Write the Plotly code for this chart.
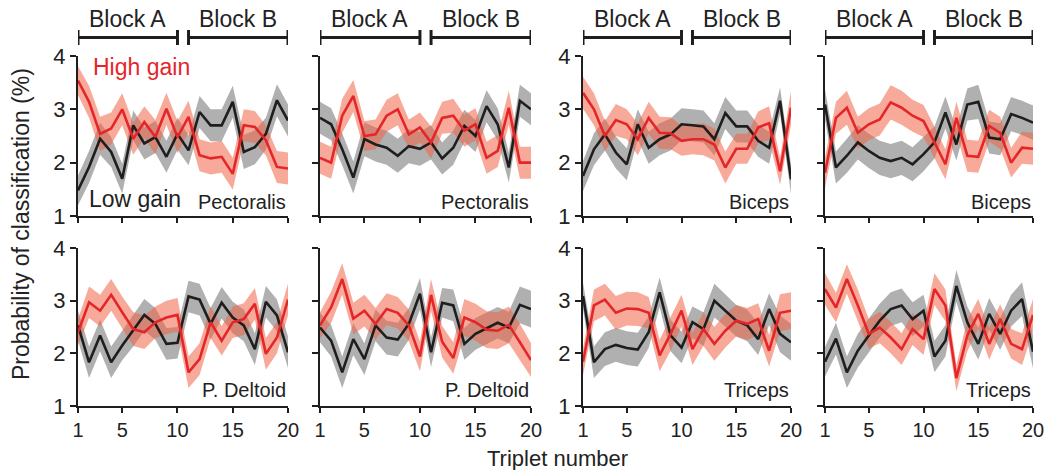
import plotly.graph_objects as go

triplets = list(range(1, 21))
panel_names = ["Pectoralis", "Pectoralis", "Biceps", "Biceps",
               "P. Deltoid", "P. Deltoid", "Triceps", "Triceps"]

# High gain (red) means per panel
high_p1 = [3.54, 3.14, 2.54, 2.64, 3.00, 2.45, 2.76, 2.48, 3.01, 2.48, 2.86, 2.14, 2.08, 2.11, 1.79, 2.70, 2.67, 2.42, 1.92, 1.89]
high_p2 = [2.09, 2.00, 2.88, 3.25, 2.50, 2.53, 2.88, 3.00, 2.53, 2.66, 2.38, 2.84, 2.88, 2.60, 2.72, 2.09, 2.22, 3.03, 2.00, 2.00]
high_p3 = [3.31, 3.00, 2.50, 2.80, 2.72, 2.44, 2.84, 2.56, 2.55, 2.41, 2.44, 2.44, 2.34, 1.91, 2.26, 2.26, 2.66, 2.74, 1.84, 3.03]
high_p4 = [1.81, 2.84, 3.03, 2.56, 2.72, 2.81, 3.13, 3.03, 2.88, 2.78, 2.38, 1.97, 2.84, 2.13, 2.11, 2.69, 2.56, 2.00, 2.28, 2.26]
high_p5 = [2.40, 2.97, 2.81, 3.11, 2.78, 2.46, 2.40, 2.59, 2.68, 2.73, 1.64, 1.89, 2.59, 2.24, 2.59, 2.65, 2.94, 1.99, 2.30, 3.02]
high_p6 = [2.53, 2.87, 3.41, 2.66, 2.81, 2.56, 2.84, 2.77, 2.53, 1.94, 3.11, 2.22, 1.91, 2.68, 2.59, 2.45, 2.43, 2.54, 2.21, 1.87]
high_p7 = [1.84, 2.91, 3.02, 2.77, 2.85, 2.84, 2.77, 1.96, 2.37, 2.81, 2.08, 2.46, 2.18, 2.43, 2.62, 2.56, 2.65, 2.05, 2.77, 2.81]
high_p8 = [3.22, 2.87, 3.41, 2.91, 2.37, 2.49, 2.30, 2.08, 2.46, 2.27, 3.22, 2.91, 1.53, 2.34, 2.75, 2.18, 2.65, 2.18, 2.08, 2.73]

# Low gain (black) means per panel
low_p1 = [1.48, 1.92, 2.45, 2.20, 1.70, 2.70, 2.36, 2.48, 2.11, 2.54, 2.23, 2.95, 2.70, 2.70, 3.14, 2.20, 2.29, 2.54, 3.17, 2.79]
low_p2 = [2.84, 2.72, 2.25, 1.72, 2.44, 2.34, 2.28, 2.13, 2.31, 2.26, 2.38, 2.08, 2.28, 2.69, 2.50, 3.06, 2.72, 1.91, 3.16, 3.00]
low_p3 = [1.75, 2.25, 2.53, 2.19, 1.97, 2.72, 2.28, 2.44, 2.53, 2.72, 2.70, 2.68, 2.44, 2.93, 2.68, 2.68, 2.41, 2.28, 3.16, 1.69]
low_p4 = [3.09, 1.91, 2.13, 2.38, 2.22, 2.09, 2.03, 2.09, 1.97, 2.16, 2.38, 2.94, 2.34, 3.09, 3.14, 2.47, 2.44, 2.91, 2.84, 2.75]
low_p5 = [2.53, 1.83, 2.34, 1.83, 2.15, 2.43, 2.73, 2.56, 2.18, 2.20, 3.08, 3.02, 2.56, 2.96, 2.68, 2.53, 2.08, 2.98, 2.72, 2.02]
low_p6 = [2.49, 2.24, 1.64, 2.27, 1.89, 2.53, 2.30, 2.26, 2.56, 3.13, 2.02, 2.96, 2.91, 2.18, 2.37, 2.47, 2.58, 2.49, 2.92, 2.84]
low_p7 = [3.09, 1.83, 2.08, 2.16, 2.10, 2.07, 2.40, 3.16, 2.34, 2.11, 2.59, 2.46, 3.00, 2.81, 2.62, 2.53, 2.27, 2.84, 2.37, 2.21]
low_p8 = [1.84, 2.28, 1.64, 2.05, 2.34, 2.62, 2.84, 2.91, 2.65, 2.81, 1.94, 2.24, 3.28, 2.59, 2.18, 2.75, 2.37, 2.81, 3.03, 2.03]

# Shaded-band half widths (s.e.m.) per panel
high_sem_p1 = [0.27, 0.30, 0.32, 0.30, 0.30, 0.30, 0.30, 0.32, 0.30, 0.30, 0.30, 0.30, 0.30, 0.30, 0.30, 0.30, 0.30, 0.28, 0.30, 0.30]
high_sem_p2 = [0.30, 0.30, 0.32, 0.30, 0.28, 0.28, 0.30, 0.30, 0.28, 0.28, 0.30, 0.30, 0.32, 0.30, 0.30, 0.30, 0.30, 0.32, 0.30, 0.30]
high_sem_p3 = [0.30, 0.30, 0.28, 0.30, 0.28, 0.30, 0.30, 0.30, 0.30, 0.28, 0.28, 0.30, 0.30, 0.30, 0.28, 0.28, 0.30, 0.32, 0.25, 0.32]
high_sem_p4 = [0.28, 0.30, 0.32, 0.30, 0.30, 0.30, 0.32, 0.32, 0.30, 0.30, 0.30, 0.28, 0.30, 0.30, 0.30, 0.30, 0.30, 0.28, 0.30, 0.30]
high_sem_p5 = [0.25, 0.30, 0.30, 0.30, 0.30, 0.32, 0.32, 0.30, 0.32, 0.32, 0.30, 0.30, 0.30, 0.28, 0.30, 0.30, 0.30, 0.30, 0.30, 0.30]
high_sem_p6 = [0.25, 0.30, 0.30, 0.30, 0.30, 0.30, 0.30, 0.30, 0.30, 0.28, 0.30, 0.30, 0.30, 0.35, 0.35, 0.35, 0.35, 0.35, 0.35, 0.32]
high_sem_p7 = [0.25, 0.30, 0.30, 0.32, 0.32, 0.32, 0.30, 0.30, 0.32, 0.30, 0.30, 0.32, 0.32, 0.32, 0.30, 0.30, 0.30, 0.30, 0.35, 0.35]
high_sem_p8 = [0.30, 0.28, 0.28, 0.30, 0.28, 0.30, 0.30, 0.30, 0.30, 0.30, 0.30, 0.30, 0.25, 0.30, 0.28, 0.30, 0.28, 0.28, 0.30, 0.30]

low_sem_p1 = [0.28, 0.30, 0.30, 0.28, 0.28, 0.28, 0.30, 0.30, 0.30, 0.30, 0.28, 0.30, 0.30, 0.30, 0.30, 0.32, 0.32, 0.30, 0.30, 0.30]
low_sem_p2 = [0.30, 0.30, 0.30, 0.30, 0.32, 0.32, 0.32, 0.32, 0.32, 0.32, 0.32, 0.30, 0.32, 0.30, 0.30, 0.30, 0.30, 0.28, 0.30, 0.30]
low_sem_p3 = [0.28, 0.30, 0.30, 0.30, 0.30, 0.28, 0.30, 0.30, 0.30, 0.30, 0.30, 0.30, 0.30, 0.30, 0.30, 0.30, 0.30, 0.30, 0.25, 0.28]
low_sem_p4 = [0.28, 0.30, 0.32, 0.32, 0.32, 0.32, 0.32, 0.32, 0.32, 0.32, 0.30, 0.30, 0.30, 0.30, 0.32, 0.30, 0.30, 0.32, 0.32, 0.32]
low_sem_p5 = [0.28, 0.30, 0.30, 0.30, 0.28, 0.30, 0.30, 0.30, 0.30, 0.30, 0.30, 0.30, 0.30, 0.30, 0.30, 0.30, 0.30, 0.30, 0.30, 0.30]
low_sem_p6 = [0.28, 0.30, 0.30, 0.30, 0.30, 0.30, 0.32, 0.32, 0.30, 0.30, 0.28, 0.28, 0.30, 0.30, 0.30, 0.30, 0.30, 0.30, 0.35, 0.35]
low_sem_p7 = [0.25, 0.30, 0.32, 0.32, 0.32, 0.32, 0.30, 0.28, 0.30, 0.30, 0.30, 0.32, 0.32, 0.30, 0.30, 0.30, 0.30, 0.30, 0.35, 0.35]
low_sem_p8 = [0.28, 0.30, 0.30, 0.32, 0.32, 0.32, 0.32, 0.32, 0.32, 0.30, 0.30, 0.30, 0.30, 0.30, 0.30, 0.30, 0.30, 0.30, 0.32, 0.32]

high_means = [high_p1, high_p2, high_p3, high_p4, high_p5, high_p6, high_p7, high_p8]
low_means = [low_p1, low_p2, low_p3, low_p4, low_p5, low_p6, low_p7, low_p8]
high_sems = [high_sem_p1, high_sem_p2, high_sem_p3, high_sem_p4, high_sem_p5, high_sem_p6, high_sem_p7, high_sem_p8]
low_sems = [low_sem_p1, low_sem_p2, low_sem_p3, low_sem_p4, low_sem_p5, low_sem_p6, low_sem_p7, low_sem_p8]

x_ticks = [1, 5, 10, 15, 20]
y_ticks = [1, 2, 3, 4]

W, H = 1049, 470
FONT = "Liberation Sans, Arial, sans-serif"
RED = "#e4262b"
RED_FILL = "rgba(240,100,70,0.55)"
GRAY_FILL = "rgba(90,90,90,0.48)"
BLACK = "#1e1e1e"
TXT = "#222"

col_px = [(78, 288), (320, 531), (583, 791), (825, 1033)]
row_px = [(56, 216), (248, 406)]

fig = go.Figure()
layout = dict(
    width=W, height=H, margin=dict(l=0, r=0, t=0, b=0, autoexpand=False),
    paper_bgcolor="white", plot_bgcolor="white", showlegend=False,
    font=dict(family=FONT, color=TXT, size=21),
)
shapes = []
annotations = []

for i in range(8):
    r, c = divmod(i, 4)
    k = i + 1
    xa = "x" if k == 1 else f"x{k}"
    ya = "y" if k == 1 else f"y{k}"
    x0, x1 = col_px[c]
    y0, y1 = row_px[r]
    layout[f"xaxis{k}"] = dict(
        domain=[x0 / W, x1 / W], range=[1, 20], anchor=ya,
        tickvals=x_ticks, showticklabels=(r == 1), ticks="outside",
        ticklen=5, tickwidth=2, tickcolor=BLACK, showline=True,
        linecolor=BLACK, linewidth=2, showgrid=False, zeroline=False,
        automargin=False,
        tickfont=dict(size=20, family=FONT, color=TXT),
    )
    layout[f"yaxis{k}"] = dict(
        domain=[1 - y1 / H, 1 - y0 / H], range=[1, 4], anchor=xa,
        tickvals=y_ticks, showticklabels=(c in (0, 2)), ticks="outside",
        ticklen=6, tickwidth=2, tickcolor=BLACK, showline=True,
        linecolor=BLACK, linewidth=2, showgrid=False, zeroline=False,
        automargin=False,
        tickfont=dict(size=22, family=FONT, color=TXT),
    )
    hm, hs = high_means[i], high_sems[i]
    lm, ls = low_means[i], low_sems[i]
    for m, s, fc in ((lm, ls, GRAY_FILL), (hm, hs, RED_FILL)):
        up = [a + b for a, b in zip(m, s)]
        lo = [a - b for a, b in zip(m, s)]
        fig.add_trace(go.Scatter(
            x=triplets + triplets[::-1], y=up + lo[::-1], fill="toself",
            fillcolor=fc, line=dict(width=0), mode="lines",
            xaxis=xa, yaxis=ya, hoverinfo="skip"))
    fig.add_trace(go.Scatter(x=triplets, y=lm, mode="lines",
                             line=dict(color=BLACK, width=2.6),
                             xaxis=xa, yaxis=ya, name="Low gain"))
    fig.add_trace(go.Scatter(x=triplets, y=hm, mode="lines",
                             line=dict(color=RED, width=2.6),
                             xaxis=xa, yaxis=ya, name="High gain"))
    # panel label
    ly = 202 if r == 0 else 390
    annotations.append(dict(
        text=panel_names[i], xref=xa, yref="paper", x=20, y=1 - ly / H,
        xanchor="right", yanchor="middle", showarrow=False,
        font=dict(size=20, family=FONT, color=TXT)))
    # block brackets
    if r == 0:
        for (bs, be, lab) in ((1, 10, "Block A"), (11, 20, "Block B")):
            shapes.append(dict(type="line", xref=xa, yref="paper",
                               x0=bs, x1=be, y0=1 - 37.5 / H, y1=1 - 37.5 / H,
                               line=dict(color=BLACK, width=3)))
            for xb in (bs, be):
                shapes.append(dict(type="line", xref=xa, yref="paper",
                                   x0=xb, x1=xb, y0=1 - 30 / H, y1=1 - 45 / H,
                                   line=dict(color=BLACK, width=3)))
            annotations.append(dict(
                text=lab, xref=xa, yref="paper", x=(bs + be) / 2,
                y=1 - 19 / H, xanchor="center", yanchor="middle",
                showarrow=False, font=dict(size=23, family=FONT, color=TXT)))

annotations.append(dict(text="High gain", xref="paper", yref="paper",
                        x=91 / W, y=1 - 67 / H, xanchor="left", yanchor="middle",
                        showarrow=False, font=dict(size=23, family=FONT, color=RED)))
annotations.append(dict(text="Low gain", xref="paper", yref="paper",
                        x=87 / W, y=1 - 199 / H, xanchor="left", yanchor="middle",
                        showarrow=False, font=dict(size=23, family=FONT, color=TXT)))
annotations.append(dict(text="Probability of classification (%)", xref="paper",
                        yref="paper", x=21 / W, y=1 - 224 / H, textangle=-90,
                        xanchor="center", yanchor="middle", showarrow=False,
                        font=dict(size=23, family=FONT, color=TXT)))
annotations.append(dict(text="Triplet number", xref="paper", yref="paper",
                        x=557 / W, y=-2 / H, xanchor="center",
                        yanchor="bottom", showarrow=False, borderpad=0,
                        font=dict(size=22, family=FONT, color=TXT)))

layout["shapes"] = shapes
layout["annotations"] = annotations
fig.update_layout(**layout)
fig.write_html("out.html")
